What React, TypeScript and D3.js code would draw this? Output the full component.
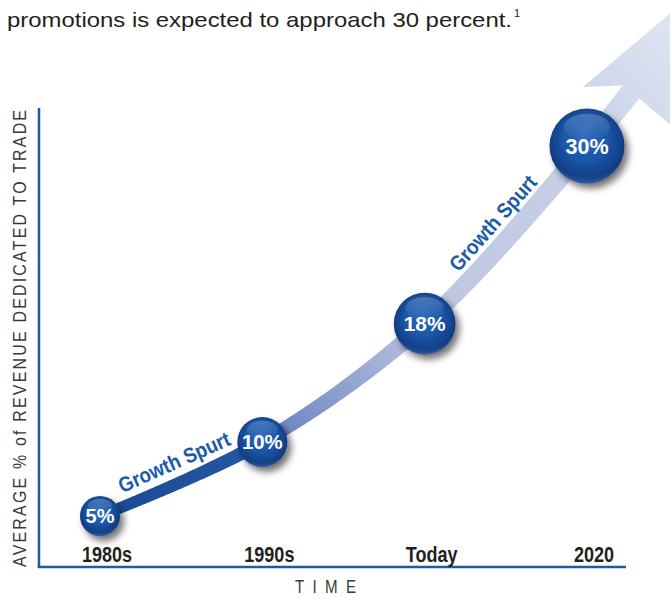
import React, { useEffect, useRef } from "react";
import * as d3 from "d3";

const categories = ["1980s", "1990s", "Today", "2020"];
const values = [5, 10, 18, 30];
const valueLabels = ["5%", "10%", "18%", "30%"];
const spurtLabels = [
  { from: 0, to: 1, text: "Growth Spurt", at: 0.5 },
  { from: 2, to: 3, text: "Growth Spurt", at: 0.5 },
];
const yTitle = "AVERAGE % of REVENUE DEDICATED TO TRADE";
const xTitle = "TIME";
const introText = "promotions is expected to approach 30 percent.";
const footnoteMark = "1";

const W = 670;
const H = 598;
const SANS = "'Liberation Sans', Arial, Helvetica, sans-serif";
const AXIS_BLUE = "#1f5aa6";
const SQUEEZE = 0.84;

export default function App() {
  const ref = useRef<SVGSVGElement>(null);

  useEffect(() => {
    const svg = d3.select(ref.current as SVGSVGElement);
    svg.selectAll("*").remove();

    const x = d3.scalePoint<string>().domain(categories).range([100, 587]);
    const y = d3.scaleLinear().domain([5, 30]).range([516, 146]);
    const r = d3.scaleSqrt().domain([5, 30]).range([20, 37.5]);
    const fs = d3.scaleLinear().domain([20, 37.5]).range([20, 21.5]);

    const pts: [number, number][] = categories.map((c, i) => [x(c) as number, y(values[i])]);
    const last = pts[pts.length - 1];
    const shaftEnd: [number, number] = [last[0] + 44, last[1] - 54];

    const defs = svg.append("defs");

    // ---- Intro text ----
    svg.append("text")
      .attr("x", 7).attr("y", 27)
      .attr("font-family", SANS).attr("font-size", 21)
      .attr("fill", "#231f20")
      .attr("textLength", 505).attr("lengthAdjust", "spacingAndGlyphs")
      .text(introText);
    svg.append("text")
      .attr("x", 514).attr("y", 17)
      .attr("font-family", SANS).attr("font-size", 11)
      .attr("fill", "#231f20")
      .text(footnoteMark);

    // ---- Curve geometry ----
    const line = d3.line().curve(d3.curveCatmullRom.alpha(0.5));
    const pathStr = line([...pts, shaftEnd]) as string;
    const tmp = svg.append("path").attr("d", pathStr).attr("fill", "none");
    const node = tmp.node() as SVGPathElement;
    const L = node.getTotalLength();
    const N = 400;
    const samples: { x: number; y: number; s: number }[] = [];
    for (let i = 0; i <= N; i++) {
      const s = (L * i) / N;
      const p = node.getPointAtLength(s);
      samples.push({ x: p.x, y: p.y, s });
    }
    tmp.remove();

    const tangentAt = (i: number) => {
      const a = samples[Math.max(0, i - 2)];
      const b = samples[Math.min(N, i + 2)];
      const dx = b.x - a.x, dy = b.y - a.y;
      const len = Math.hypot(dx, dy) || 1;
      return [dx / len, dy / len];
    };
    const widthAt = (s: number) => 11 + (21 - 11) * (s / L);

    const left: [number, number][] = [];
    const right: [number, number][] = [];
    samples.forEach((p, i) => {
      const [dx, dy] = tangentAt(i);
      const nx = -dy, ny = dx;
      const w = widthAt(p.s) / 2;
      left.push([p.x - nx * w, p.y - ny * w]);
      right.push([p.x + nx * w, p.y + ny * w]);
    });

    const B = samples[N];
    const tip: [number, number] = [B.x + 81, B.y - 114];
    const leftWing: [number, number] = [B.x - 48, B.y - 5];
    const rightWing: [number, number] = [B.x + 69, B.y + 58];

    const P0 = pts[0];
    const gx = tip[0] - P0[0], gy = tip[1] - P0[1];
    const g2 = gx * gx + gy * gy;
    const frac = (p: [number, number]) => ((p[0] - P0[0]) * gx + (p[1] - P0[1]) * gy) / g2;
    const f1 = frac(pts[1]);
    const f2 = frac(pts[2]);
    const f3 = frac(pts[3]);
    const grad = defs.append("linearGradient").attr("id", "bandGrad")
      .attr("gradientUnits", "userSpaceOnUse")
      .attr("x1", P0[0]).attr("y1", P0[1]).attr("x2", tip[0]).attr("y2", tip[1]);
    [
      [0, "#1a4a96"],
      [f1 - 0.01, "#2557a4"],
      [f1 + 0.03, "#6f87c3"],
      [f2, "#bcc6e0"],
      [f3, "#c8d1e7"],
      [1, "#e6ecf6"],
    ].forEach(([o, c]) => grad.append("stop").attr("offset", o as number).attr("stop-color", c as string));

    const bandPoly = [...left, ...right.slice().reverse()];
    svg.append("path")
      .attr("d", "M" + bandPoly.map((p) => p.join(",")).join("L") + "Z")
      .attr("fill", "url(#bandGrad)");

    const headPoly = [left[N], leftWing, tip, rightWing, right[N]];
    svg.append("path")
      .attr("d", "M" + headPoly.map((p) => p.join(",")).join("L") + "Z")
      .attr("fill", "url(#bandGrad)");

    // ---- Axes ----
    svg.append("line").attr("x1", 39).attr("x2", 39).attr("y1", 108).attr("y2", 568)
      .attr("stroke", AXIS_BLUE).attr("stroke-width", 2.5);
    svg.append("line").attr("x1", 37.75).attr("x2", 626).attr("y1", 567).attr("y2", 567)
      .attr("stroke", AXIS_BLUE).attr("stroke-width", 2.5);

    svg.append("text")
      .attr("transform", `translate(26,567) rotate(-90) scale(${SQUEEZE},1)`)
      .attr("font-family", SANS).attr("font-size", 19)
      .attr("fill", "#3a3a3a")
      .attr("textLength", 457 / SQUEEZE).attr("lengthAdjust", "spacing")
      .text(yTitle);

    svg.append("text")
      .attr("transform", `translate(295,593) scale(${SQUEEZE},1)`)
      .attr("font-family", SANS).attr("font-size", 18)
      .attr("fill", "#3a3a3a")
      .attr("textLength", 61 / SQUEEZE).attr("lengthAdjust", "spacing")
      .text(xTitle);

    svg.append("g").selectAll("text").data(categories).join("text")
      .attr("transform", (d) => `translate(${(x(d) as number) + 7},561.5) scale(0.82,1)`)
      .attr("text-anchor", "middle")
      .attr("font-family", SANS).attr("font-weight", "bold").attr("font-size", 22)
      .attr("fill", "#231f20")
      .text((d) => d);

    // ---- Growth Spurt labels ----
    const nearestIdx = (p: [number, number]) => {
      let best = 0, bd = Infinity;
      samples.forEach((s, i) => {
        const d = (s.x - p[0]) ** 2 + (s.y - p[1]) ** 2;
        if (d < bd) { bd = d; best = i; }
      });
      return best;
    };
    spurtLabels.forEach((lab) => {
      const i0 = nearestIdx(pts[lab.from]);
      const i1 = nearestIdx(pts[lab.to]);
      const i = Math.round(i0 + (i1 - i0) * lab.at);
      const [dx, dy] = tangentAt(i);
      const nx = -dy, ny = dx;
      const off = 21;
      const px = samples[i].x - nx * off;
      const py = samples[i].y - ny * off;
      const ang = (Math.atan2(dy, dx) * 180) / Math.PI;
      svg.append("text")
        .attr("transform", `translate(${px},${py}) rotate(${ang})`)
        .attr("text-anchor", "middle").attr("dy", "0.35em")
        .attr("font-family", SANS).attr("font-weight", "bold").attr("font-size", 21)
        .attr("fill", "#1b5aa6")
        .attr("textLength", 120).attr("lengthAdjust", "spacingAndGlyphs")
        .text(lab.text);
    });

    // ---- Bubbles ----
    const f = defs.append("filter").attr("id", "shadow")
      .attr("x", "-50%").attr("y", "-50%").attr("width", "200%").attr("height", "200%");
    f.append("feDropShadow").attr("dx", 4).attr("dy", 5).attr("stdDeviation", 3.5)
      .attr("flood-color", "#000").attr("flood-opacity", 0.55);

    const ball = defs.append("radialGradient").attr("id", "ball")
      .attr("cx", "50%").attr("cy", "45%").attr("r", "55%").attr("fx", "45%").attr("fy", "35%");
    [
      [0, "#2a69bb"],
      [0.55, "#1b56a7"],
      [0.85, "#134189"],
      [1, "#0c3274"],
    ].forEach(([o, c]) => ball.append("stop").attr("offset", o as number).attr("stop-color", c as string));

    const rim = defs.append("radialGradient").attr("id", "rim")
      .attr("cx", "50%").attr("cy", "35%").attr("r", "70%");
    [
      [0, "rgba(120,160,220,0)"],
      [0.8, "rgba(120,160,220,0)"],
      [1, "rgba(130,170,230,0.55)"],
    ].forEach(([o, c]) => rim.append("stop").attr("offset", o as number).attr("stop-color", c as string));

    const gloss = defs.append("linearGradient").attr("id", "gloss")
      .attr("x1", 0).attr("y1", 0).attr("x2", 0).attr("y2", 1);
    gloss.append("stop").attr("offset", 0).attr("stop-color", "#ffffff").attr("stop-opacity", 0.2);
    gloss.append("stop").attr("offset", 1).attr("stop-color", "#ffffff").attr("stop-opacity", 0);

    const bubbles = svg.append("g").selectAll("g").data(values).join("g");
    bubbles.each(function (v, i) {
      const g = d3.select(this);
      const cx = pts[i][0], cy = pts[i][1], rr = r(v);
      g.append("circle").attr("cx", cx).attr("cy", cy).attr("r", rr)
        .attr("fill", "url(#ball)").attr("filter", "url(#shadow)");
      g.append("circle").attr("cx", cx).attr("cy", cy).attr("r", rr)
        .attr("fill", "url(#rim)");
      g.append("ellipse").attr("cx", cx).attr("cy", cy - rr * 0.5)
        .attr("rx", rr * 0.62).attr("ry", rr * 0.36)
        .attr("fill", "url(#gloss)");
      g.append("text").attr("x", cx).attr("y", cy).attr("dy", "0.36em")
        .attr("text-anchor", "middle")
        .attr("font-family", SANS).attr("font-weight", "bold")
        .attr("font-size", fs(rr))
        .attr("fill", "#ffffff")
        .text(valueLabels[i]);
    });
  }, []);

  return (
    <svg
      ref={ref}
      width={W}
      height={H}
      viewBox={`0 0 ${W} ${H}`}
      style={{ position: "absolute", left: 0, top: 0, display: "block", background: "#ffffff" }}
    />
  );
}
